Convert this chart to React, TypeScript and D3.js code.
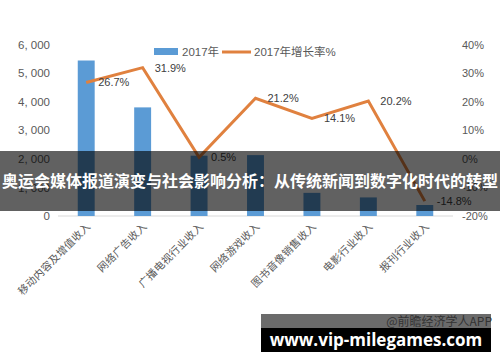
import React, { useRef, useEffect } from 'react';
import * as d3 from 'd3';

const categories = ['移动内容及增值收入', '网络广告收入', '广播电视行业收入', '网络游戏收入', '图书音像销售收入', '电影行业收入', '报刊行业收入'];
const revenue2017 = [5440, 3800, 2110, 2130, 810, 650, 385];
const growth2017 = [26.7, 31.9, 0.5, 21.2, 14.1, 20.2, -14.8];
const leftTicks = [0, 1000, 2000, 3000, 4000, 5000, 6000];
const rightTicks = [-20, -10, 0, 10, 20, 30, 40];

const title = '奥运会媒体报道演变与社会影响分析：从传统新闻到数字化时代的转型';

function App() {
  const ref = useRef<SVGSVGElement>(null);

  useEffect(() => {
    const width = 500;
    const height = 362;
    const marginLeft = 58;
    const marginRight = 47;
    const top = 44.5;
    const bottom = 216;
    const font = "'Liberation Sans', 'Noto Sans CJK SC', sans-serif";

    const svg = d3.select(ref.current);
    svg.selectAll('*').remove();
    svg.append('rect').attr('width', width).attr('height', height).attr('fill', '#fff');

    const x = d3.scaleBand().domain(categories).range([marginLeft, width - marginRight]).paddingInner(0.7).paddingOuter(0.35);
    const y = d3.scaleLinear().domain([0, 6000]).range([bottom, top]);
    const y2 = d3.scaleLinear().domain([-20, 40]).range([bottom, top]);

    // left axis
    svg.append('g')
      .attr('transform', `translate(${marginLeft - 3},0)`)
      .call(d3.axisLeft(y).tickValues(leftTicks).tickSize(0).tickPadding(5).tickFormat(d => d === 0 ? '0' : d3.format(',')(d as number).replace(',', ', ')))
      .call(g => g.select('.domain').remove())
      .call(g => g.selectAll('text').attr('fill', '#595959').attr('font-size', 11.5).attr('font-family', font));

    // right axis
    svg.append('g')
      .attr('transform', `translate(${width - marginRight + 9},0)`)
      .call(d3.axisRight(y2).tickValues(rightTicks).tickSize(0).tickPadding(0).tickFormat(d => `${d}%`))
      .call(g => g.select('.domain').remove())
      .call(g => g.selectAll('text').attr('fill', '#595959').attr('font-size', 11).attr('font-family', font));

    // baseline
    svg.append('line')
      .attr('x1', marginLeft).attr('x2', width - marginRight)
      .attr('y1', y(0)).attr('y2', y(0))
      .attr('stroke', '#d9d9d9').attr('stroke-width', 1);

    const cx = (c: string) => (x(c) as number) + x.bandwidth() / 2;

    svg.append('g').selectAll('rect').data(categories).join('rect')
      .attr('x', d => x(d) as number)
      .attr('width', x.bandwidth())
      .attr('y', (d, i) => y(revenue2017[i]))
      .attr('height', (d, i) => y(0) - y(revenue2017[i]))
      .attr('fill', '#5B9BD5');

    const line = d3.line<number>()
      .x((d, i) => cx(categories[i]))
      .y(d => y2(d));

    svg.append('path')
      .attr('d', line(growth2017))
      .attr('fill', 'none')
      .attr('stroke', '#E0813F')
      .attr('stroke-width', 3);

    svg.append('g').selectAll('text').data(growth2017).join('text')
      .attr('x', (d, i) => cx(categories[i]) + 12)
      .attr('y', d => y2(d))
      .attr('dy', '0.35em')
      .attr('font-size', 11)
      .attr('font-family', font)
      .attr('fill', '#404040')
      .text(d => `${d.toFixed(1)}%`);

    // x labels
    svg.append('g').selectAll('text').data(categories).join('text')
      .attr('transform', d => `translate(${cx(d) + 5},${bottom + 11}) rotate(-45)`)
      .attr('text-anchor', 'end')
      .attr('font-size', 10.5)
      .attr('letter-spacing', 0.3)
      .attr('font-family', font)
      .attr('fill', '#595959')
      .text(d => d);

    // legend
    const lg = svg.append('g').attr('font-family', font).attr('font-size', 11.5).attr('fill', '#595959');
    lg.append('rect').attr('x', 154).attr('y', 48).attr('width', 24).attr('height', 7).attr('fill', '#5B9BD5');
    lg.append('text').attr('x', 182).attr('y', 52).attr('dy', '0.35em').text('2017年');
    lg.append('line').attr('x1', 222).attr('x2', 251).attr('y1', 52).attr('y2', 52).attr('stroke', '#E0813F').attr('stroke-width', 3);
    lg.append('text').attr('x', 254).attr('y', 52).attr('dy', '0.35em').text('2017年增长率%');

    // title overlay
    svg.append('rect').attr('x', 0).attr('y', 151).attr('width', width).attr('height', 60).attr('fill', '#000').attr('opacity', 0.62);
    svg.append('text')
      .attr('x', width / 2).attr('y', 181).attr('dy', '0.35em')
      .attr('text-anchor', 'middle')
      .attr('font-family', "'Noto Sans CJK SC', sans-serif")
      .attr('font-weight', 'bold')
      .attr('font-size', 16)
      .attr('fill', '#fff')
      .text(title);

    // bottom watermark
    svg.append('rect').attr('x', 261).attr('y', 314).attr('width', 230).attr('height', 14).attr('fill', '#6b6b6b');
    svg.append('rect').attr('x', 261).attr('y', 328).attr('width', 230).attr('height', 24).attr('fill', '#000');
    svg.append('text')
      .attr('x', 492).attr('y', 326)
      .attr('text-anchor', 'end')
      .attr('font-family', "'Noto Sans CJK SC', sans-serif")
      .attr('font-size', 12)
      .attr('fill', '#333')
      .text('@前瞻经济学人APP');
    svg.append('text')
      .attr('x', 376).attr('y', 340).attr('dy', '0.35em')
      .attr('text-anchor', 'middle')
      .attr('font-family', "'Open Sans', 'DejaVu Sans', sans-serif")
      .attr('font-weight', 'bold')
      .attr('font-size', 17)
      .attr('fill', '#fff')
      .text('www.vip-milegames.com');
  }, []);

  return <svg ref={ref} width={500} height={362} style={{ display: 'block', position: 'absolute', left: 0, top: 0 }} />;
}

export default App;
